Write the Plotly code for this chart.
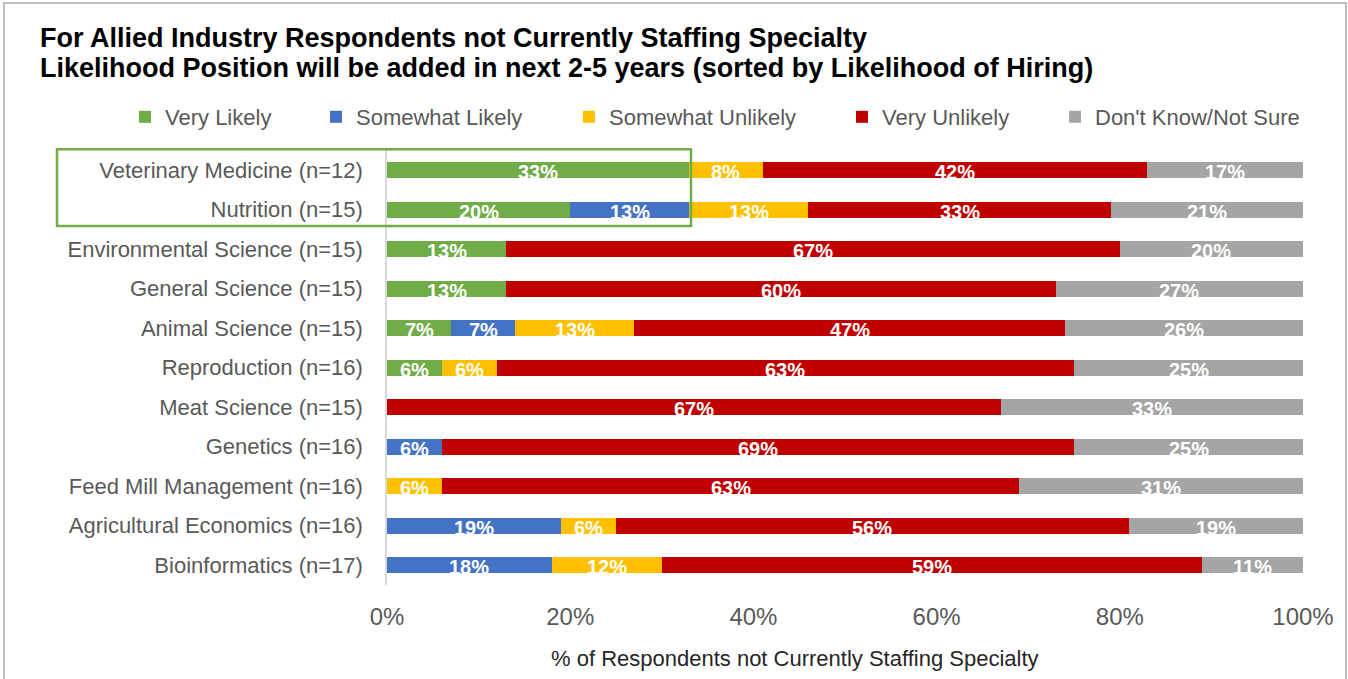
import plotly.graph_objects as go

# Specialties (top to bottom) and survey shares in percent
categories = [
    "Veterinary Medicine (n=12)",
    "Nutrition (n=15)",
    "Environmental Science (n=15)",
    "General Science (n=15)",
    "Animal Science (n=15)",
    "Reproduction (n=16)",
    "Meat Science (n=15)",
    "Genetics (n=16)",
    "Feed Mill Management (n=16)",
    "Agricultural Economics (n=16)",
    "Bioinformatics (n=17)",
]

very_likely       = [33, 20, 13, 13, 7, 6, 0, 0, 0, 0, 0]
somewhat_likely   = [0, 13, 0, 0, 7, 0, 0, 6, 0, 19, 18]
somewhat_unlikely = [8, 13, 0, 0, 13, 6, 0, 0, 6, 6, 12]
very_unlikely     = [42, 33, 67, 60, 47, 63, 67, 69, 63, 56, 59]
dont_know         = [17, 21, 20, 27, 26, 25, 33, 25, 31, 19, 11]

series_names = ["Very Likely", "Somewhat Likely", "Somewhat Unlikely",
                "Very Unlikely", "Don't Know/Not Sure"]
series_values = [very_likely, somewhat_likely, somewhat_unlikely,
                 very_unlikely, dont_know]
series_colors = ["#70AD47", "#4472C4", "#FFC000", "#C00000", "#A5A5A5"]

x_ticks = [0, 20, 40, 60, 80, 100]
x_ticktext = ["0%", "20%", "40%", "60%", "80%", "100%"]

title_lines = [
    "For Allied Industry Respondents not Currently Staffing Specialty",
    "Likelihood Position will be added in next 2-5 years (sorted by Likelihood of Hiring)",
]
x_title = "% of Respondents not Currently Staffing Specialty"

FONT = "Liberation Sans, Arial, sans-serif"
GRAY = "#595959"

# plot-area geometry in pixels
L, R, T, B = 387, 45, 148, 94
W, H = 1348, 679
PW, PH = W - L - R, H - T - B

# left edge (px) of each legend entry along the top row
legend_left_px = [125, 316, 569, 842, 1055]


def px_x(px):
    return (px - L) / PW


def px_y(py):
    return (H - B - py) / PH


fig = go.Figure()
legend_layouts = {}

for k, (name, vals, color) in enumerate(zip(series_names, series_values, series_colors)):
    legend_id = "legend" if k == 0 else f"legend{k + 1}"
    fig.add_trace(go.Bar(
        y=categories,
        x=vals,
        name=name,
        orientation="h",
        legend=legend_id,
        marker=dict(color=color, line=dict(width=0)),
        hoverinfo="x+y+name",
    ))
    legend_layouts[legend_id] = dict(
        orientation="h", xref="paper", yref="paper",
        x=px_x(legend_left_px[k]), xanchor="left",
        y=px_y(117), yanchor="middle",
        font=dict(family=FONT, size=22, color=GRAY),
        bgcolor="rgba(0,0,0,0)",
        itemwidth=30,
    )

# Percentage labels centred on each segment, sitting slightly low in the bar
annotations = []
cum = [0] * len(categories)
for vals in series_values:
    for i, v in enumerate(vals):
        if v > 0:
            annotations.append(dict(
                x=cum[i] + v / 2, y=categories[i], xref="x", yref="y",
                text=f"<b>{v}%</b>", showarrow=False, yshift=-2,
                font=dict(family=FONT, size=20, color="white"),
            ))
        cum[i] += v

# Two-line chart title
for line, py in zip(title_lines, [38, 68]):
    annotations.append(dict(
        x=px_x(38), xanchor="left", y=px_y(py), yanchor="middle",
        xref="paper", yref="paper", showarrow=False,
        text=f"<b>{line}</b>",
        font=dict(family=FONT, size=27, color="black"),
    ))

# x-axis title
annotations.append(dict(
    x=px_x(795), xanchor="center", y=px_y(658), yanchor="middle",
    xref="paper", yref="paper", showarrow=False, text=x_title,
    font=dict(family=FONT, size=22, color="#262626"),
))

fig.update_layout(
    width=W, height=H,
    margin=dict(l=L, r=R, t=T, b=B, autoexpand=False),
    paper_bgcolor="white", plot_bgcolor="white",
    barmode="stack", bargap=0.6,
    showlegend=True,
    xaxis=dict(
        range=[0, 100], tickvals=x_ticks, ticktext=x_ticktext,
        showgrid=False, zeroline=False, showline=False,
        ticks="outside", ticklen=10, tickcolor="rgba(0,0,0,0)",
        tickfont=dict(family=FONT, size=24, color=GRAY),
    ),
    yaxis=dict(
        autorange="reversed", showgrid=False, zeroline=False,
        showline=True, linecolor="#D9D9D9", linewidth=1.5,
        ticks="outside", ticklen=18, tickcolor="rgba(0,0,0,0)",
        tickfont=dict(family=FONT, size=22, color=GRAY),
    ),
    annotations=annotations,
    shapes=[
        # outer chart frame
        dict(type="rect", xref="paper", yref="paper",
             x0=px_x(4), x1=px_x(1346), y0=px_y(690), y1=px_y(3),
             line=dict(color="#BFBFBF", width=2), layer="below"),
        # highlight box around the top two specialties
        dict(type="rect", xref="paper", yref="y",
             x0=px_x(57), x1=px_x(691), y0=-0.53, y1=1.41,
             line=dict(color="#70AD47", width=2.5)),
    ],
    **legend_layouts,
)

fig.write_html("out.html")
